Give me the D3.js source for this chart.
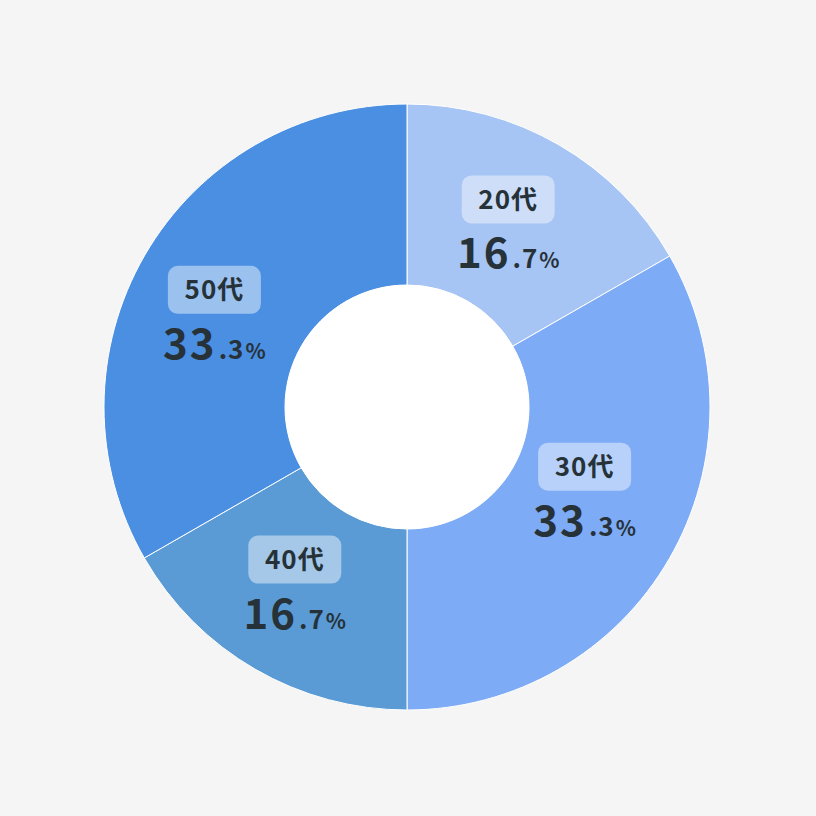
<!DOCTYPE html>
<html><head><meta charset="utf-8">
<script src="https://cdn.jsdelivr.net/npm/d3@7"></script>
<style>html,body{margin:0;padding:0;background:#f5f5f5;}</style>
</head><body><svg id="c" width="816" height="816"></svg>
<script>
const categories = ["20代", "30代", "40代", "50代"];
const values = [16.7, 33.3, 16.7, 33.3];
const colors = ["#a6c4f4", "#7eabf6", "#5b9bd5", "#4a8fe2"];

// layout config (label offsets from arc centroid)
const labelNudgeX = [-4.5, -5, -6.5, -10];
const labelNudgeY = [-25, -46, -30, -11.5];

const W = 816, H = 816, cx = 407, cy = 407, R = 303, r0 = 122, rLabel = 211;
const svg = d3.select("#c");
svg.append("rect").attr("width", W).attr("height", H).attr("fill", "#f5f5f5");
const g = svg.append("g").attr("transform", `translate(${cx},${cy})`);
const data = categories.map((c, i) => ({ c, v: values[i], col: colors[i] }));
const pie = d3.pie().value(d => d.v).sort(null);
const arcs = pie(data);
const arc = d3.arc().innerRadius(r0).outerRadius(R);
const larc = d3.arc().innerRadius(rLabel).outerRadius(rLabel);

g.selectAll("path.s").data(arcs).join("path").attr("class", "s")
  .attr("d", arc).attr("fill", d => d.data.col)
  .attr("stroke", "#ffffff").attr("stroke-width", 1);
g.append("circle").attr("r", r0).attr("fill", "#ffffff");

const font = "'Noto Sans CJK JP','Noto Sans',sans-serif";
arcs.forEach((a, i) => {
  const [x, y] = larc.centroid(a);
  const lg = g.append("g").attr("transform", `translate(${x + labelNudgeX[i]},${y + labelNudgeY[i]})`);
  lg.append("rect").attr("x", -46.5).attr("y", -24).attr("width", 93).attr("height", 48)
    .attr("rx", 10).attr("fill", "#ffffff").attr("fill-opacity", 0.45);
  lg.append("text").attr("x", 0).attr("y", 9.5)
    .attr("text-anchor", "middle").attr("letter-spacing", 1)
    .attr("font-family", font).attr("font-weight", 700).attr("font-size", 26)
    .attr("fill", "#263238").text(a.data.c);
  const s = a.data.v.toFixed(1).split(".");
  const t = lg.append("text").attr("x", 0).attr("y", 69).attr("text-anchor", "middle")
    .attr("font-family", font).attr("font-weight", 700).attr("fill", "#263238");
  t.append("tspan").attr("font-size", 42).attr("letter-spacing", 2).text(s[0]);
  t.append("tspan").attr("font-size", 26).attr("dx", 2).attr("letter-spacing", 1).text("." + s[1]);
  t.append("tspan").attr("font-size", 21).attr("dx", 1).text("%");
});
</script></body></html>
